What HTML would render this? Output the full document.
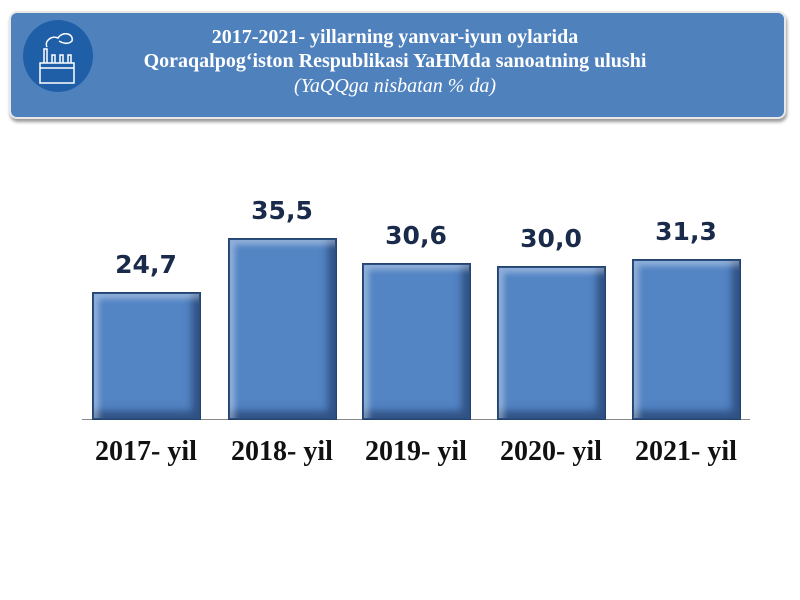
<!DOCTYPE html>
<html><head><meta charset="utf-8"><style>
body{margin:0;width:800px;height:600px;background:#fff;position:relative;overflow:hidden;font-family:"Liberation Serif",serif}
.hdr{position:absolute;left:9px;top:11px;width:773px;height:104px;background:#4f81bd;border-radius:8px;box-shadow:1px 3px 3px #999;border:2px solid #e8e8e8}
.t{position:absolute;left:0;width:790px;text-align:center;color:#fff;font-weight:bold;font-size:20px}
.bar{position:absolute;width:107px;background:#5384c4;box-shadow:inset 0 0 0 1px #2a4f80,inset 6px 6px 6px rgba(255,255,255,0.35),inset -8px -8px 8px rgba(20,40,80,0.55);border:1px solid #24446e}
.v{position:absolute;width:120px;text-align:center;font-family:"DejaVu Sans",sans-serif;font-weight:bold;font-size:25px;color:#1a2a4a}
.l{position:absolute;width:140px;text-align:center;font-weight:bold;font-size:28px;color:#111;top:436px}
</style></head><body>
<div class="hdr"></div>
<svg style="position:absolute;left:20px;top:17px" width="76" height="80" viewBox="0 0 76 80">
<ellipse cx="38" cy="39" rx="35" ry="36" fill="#1f5fa8"/>
<g fill="none" stroke="#fff" stroke-width="1.5">
<path d="M20 66 V46 H54 V66 Z M20 51 H54 M24 46 V32 H27 V46 M32 46 V38 H35 V46 M40 46 V38 H43 V46 M48 46 V38 H51 V46"/>
<path d="M27 30 C24 24 32 18 38 21 C42 14 54 16 52 24 C48 28 42 26 39 24"/>
</g></svg>
<div class="t" style="top:26px">2017-2021- yillarning yanvar-iyun oylarida</div>
<div class="t" style="top:50px">Qoraqalpog‘iston Respublikasi YaHMda sanoatning ulushi</div>
<div class="t" style="top:75px;font-weight:normal;font-style:italic;font-size:20px">(YaQQga nisbatan % da)</div>
<div style="position:absolute;left:82px;top:419px;width:668px;height:1px;background:#888"></div>
<div class="bar" style="left:92px;top:292px;height:126px"></div>
<div class="bar" style="left:228px;top:238px;height:180px"></div>
<div class="bar" style="left:362px;top:263px;height:155px"></div>
<div class="bar" style="left:497px;top:266px;height:152px"></div>
<div class="bar" style="left:632px;top:259px;height:159px"></div>
<div class="v" style="left:86px;top:250px">24,7</div>
<div class="v" style="left:222px;top:196px">35,5</div>
<div class="v" style="left:356px;top:221px">30,6</div>
<div class="v" style="left:491px;top:224px">30,0</div>
<div class="v" style="left:626px;top:217px">31,3</div>
<div class="l" style="left:76px">2017- yil</div>
<div class="l" style="left:212px">2018- yil</div>
<div class="l" style="left:346px">2019- yil</div>
<div class="l" style="left:481px">2020- yil</div>
<div class="l" style="left:616px">2021- yil</div>
</body></html>
